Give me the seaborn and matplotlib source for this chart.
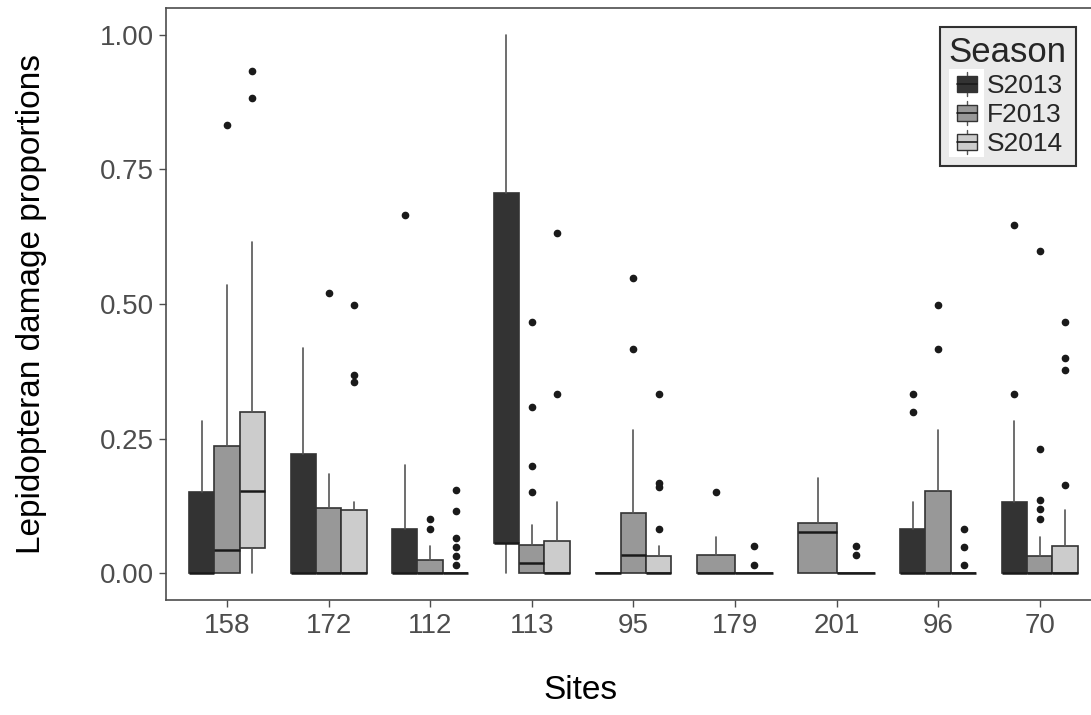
import numpy as np
import matplotlib
matplotlib.use("Agg")
import matplotlib.pyplot as plt
from matplotlib.patches import Rectangle
from matplotlib.lines import Line2D
from matplotlib.legend_handler import HandlerBase
import seaborn as sns

# --- DATA ---
sites = ["158", "172", "112", "113", "95", "179", "201", "96", "70"]
seasons = ["S2013", "F2013", "S2014"]
colors = ["#333333", "#989898", "#CCCCCC"]

# S2013 (missing at sites 179 and 201)
s2013_q1 = [0, 0, 0, 0.056, 0, None, None, 0, 0]
s2013_med = [0, 0, 0, 0.056, 0, None, None, 0, 0]
s2013_q3 = [0.151, 0.221, 0.082, 0.707, 0, None, None, 0.082, 0.133]
s2013_lo = [0, 0, 0, 0, 0, None, None, 0, 0]
s2013_hi = [0.283, 0.418, 0.201, 1.0, 0, None, None, 0.133, 0.283]
s2013_out = [[], [], [0.666], [], [], [], [], [0.332, 0.299], [0.647, 0.332]]

# F2013
f2013_q1 = [0, 0, 0, 0, 0, 0, 0, 0, 0]
f2013_med = [0.043, 0, 0, 0.018, 0.034, 0, 0.076, 0, 0]
f2013_q3 = [0.236, 0.121, 0.025, 0.053, 0.112, 0.033, 0.094, 0.152, 0.032]
f2013_lo = [0, 0, 0, 0, 0, 0, 0, 0, 0]
f2013_hi = [0.536, 0.184, 0.051, 0.090, 0.265, 0.067, 0.176, 0.265, 0.067]
f2013_out = [[0.833], [0.521], [0.100, 0.082], [0.467, 0.309, 0.199, 0.150],
             [0.548, 0.417], [0.150], [], [0.499, 0.417],
             [0.598, 0.231, 0.135, 0.119, 0.101]]

# S2014
s2014_q1 = [0.046, 0, 0, 0, 0, 0, 0, 0, 0]
s2014_med = [0.152, 0, 0, 0, 0, 0, 0, 0, 0]
s2014_q3 = [0.300, 0.117, 0, 0.060, 0.032, 0, 0, 0, 0.050]
s2014_lo = [0, 0, 0, 0, 0, 0, 0, 0, 0]
s2014_hi = [0.616, 0.133, 0, 0.133, 0.050, 0, 0, 0, 0.117]
s2014_out = [[0.933, 0.883], [0.499, 0.368, 0.355],
             [0.155, 0.116, 0.066, 0.049, 0.032, 0.016], [0.632, 0.332],
             [0.332, 0.167, 0.160, 0.082], [0.050, 0.016], [0.051, 0.033],
             [0.082, 0.049, 0.016], [0.467, 0.399, 0.378, 0.164]]

series = {
    "S2013": (s2013_q1, s2013_med, s2013_q3, s2013_lo, s2013_hi, s2013_out),
    "F2013": (f2013_q1, f2013_med, f2013_q3, f2013_lo, f2013_hi, f2013_out),
    "S2014": (s2014_q1, s2014_med, s2014_q3, s2014_lo, s2014_hi, s2014_out),
}

# --- STYLE ---
sns.set_theme(style="ticks")
plt.rcParams["font.family"] = ["Liberation Sans", "DejaVu Sans"]

fig = plt.figure(figsize=(10.91, 7.15), dpi=100)
ax = fig.add_axes([0.1522, 0.1608, 0.8567, 0.828])

DODGE = 0.75
for i, site in enumerate(sites):
    present = [s for s in seasons if series[s][0][i] is not None]
    w = DODGE / len(present)
    for k, s in enumerate(present):
        q1, med, q3, lo, hi, out = series[s]
        pos = i - DODGE / 2 + w * (k + 0.5)
        st = [dict(q1=q1[i], med=med[i], q3=q3[i], whislo=lo[i], whishi=hi[i],
                   fliers=np.array(out[i]))]
        c = colors[seasons.index(s)]
        ax.bxp(st, positions=[pos], widths=w, patch_artist=True, showcaps=False,
               boxprops=dict(facecolor=c, edgecolor="#333333", linewidth=1.2),
               whiskerprops=dict(color="#555555", linewidth=1.2),
               medianprops=dict(color="#1A1A1A", linewidth=1.8),
               flierprops=dict(marker="o", markerfacecolor="#1A1A1A",
                               markeredgecolor="#1A1A1A", markersize=4.5),
               manage_ticks=False)

ax.set_xlim(-0.6, 8.6)
ax.set_ylim(-0.05, 1.05)
ax.set_xticks(range(len(sites)))
ax.set_xticklabels(sites)
ax.set_yticks([0, 0.25, 0.5, 0.75, 1.0])
ax.set_yticklabels(["0.00", "0.25", "0.50", "0.75", "1.00"])
ax.tick_params(axis="both", labelsize=20, labelcolor="#4D4D4D", color="#4D4D4D",
               length=5, width=1, pad=4)
for sp in ax.spines.values():
    sp.set_color("#4D4D4D")
    sp.set_linewidth(1.2)
ax.set_xlabel("Sites", fontsize=24, color="black")
ax.xaxis.set_label_coords(0.443, -0.126)
ax.set_ylabel("Lepidopteran damage proportions", fontsize=24, labelpad=38,
              color="black")


# legend key drawn like a small boxplot
class BoxKey(HandlerBase):
    def create_artists(self, legend, orig_handle, xdescent, ydescent,
                       width, height, fontsize, trans):
        x0, y0 = -xdescent, -ydescent
        fc = orig_handle.get_facecolor()
        bg = Rectangle((x0, y0 - 0.25 * height), width, height * 1.5,
                       facecolor="white", edgecolor="none", transform=trans)
        cx = x0 + width / 2
        wl = Line2D([cx, cx], [y0 - 0.1 * height, y0 + 1.1 * height],
                    color="#555555", lw=1, transform=trans)
        bx0 = x0 + 0.22 * width
        bw = 0.56 * width
        box = Rectangle((bx0, y0 + 0.12 * height), bw, 0.76 * height,
                        facecolor=fc, edgecolor="#333333", lw=1, transform=trans)
        md = Line2D([bx0, bx0 + bw], [y0 + 0.5 * height] * 2, color="#1A1A1A",
                    lw=1.2, transform=trans)
        return [bg, wl, box, md]


handles = [Rectangle((0, 0), 1, 1, facecolor=c) for c in colors]
leg = fig.legend(handles, seasons, title="Season", loc="upper right",
                 bbox_to_anchor=(1076 / 1091, 1 - 27 / 715),
                 bbox_transform=fig.transFigure,
                 handler_map={Rectangle: BoxKey()}, fontsize=19,
                 title_fontsize=25, frameon=True, fancybox=False,
                 handlelength=1.35, handleheight=0.8, handletextpad=0.1,
                 labelspacing=0.18, borderpad=0.35, borderaxespad=0)
leg._legend_box.align = "left"
leg.get_frame().set_facecolor("#E5E5E5")
leg.get_frame().set_edgecolor("black")
leg.get_frame().set_linewidth(1.5)

fig.savefig("out.png", dpi=100)
